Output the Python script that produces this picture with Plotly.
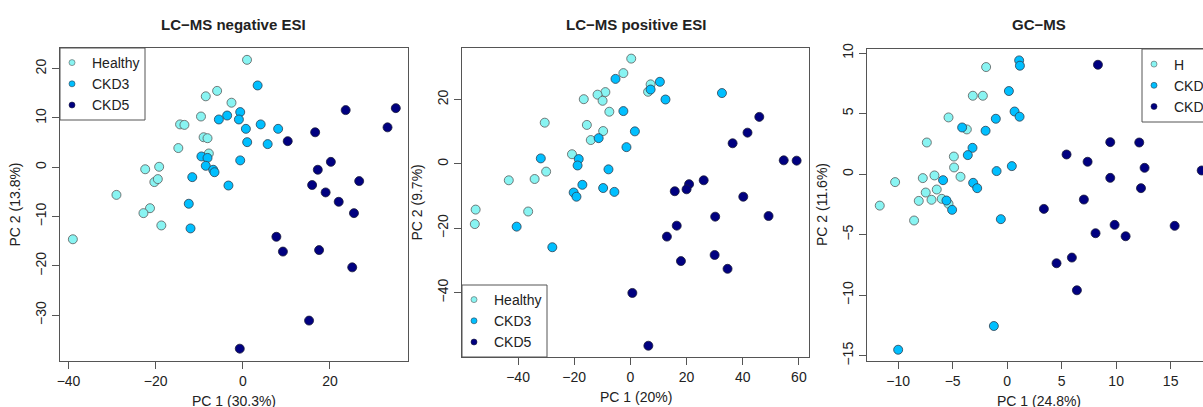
import plotly.graph_objects as go

W, H = 1203, 407

groups = ["Healthy", "CKD3", "CKD5"]
gc_legend_labels = ["H", "CKD3", "CKD5"]
fill_colors = ["#88F4F2", "#00BFFF", "#000080"]
outline_colors = ["#5a5a5a", "#2f3f4f", "#1a1a3a"]

titles = ["LC\u2212MS negative ESI", "LC\u2212MS positive ESI", "GC\u2212MS"]
x_titles = ["PC 1 (30.3%)", "PC 1 (20%)", "PC 1 (24.8%)"]
y_titles = ["PC 2 (13.8%)", "PC 2 (9.7%)", "PC 2 (11.6%)"]

x_ticks = [[-40, -20, 0, 20], [-40, -20, 0, 20, 40, 60], [-10, -5, 0, 5, 10, 15]]
y_ticks = [[-30, -20, -10, 0, 10, 20], [-40, -20, 0, 20], [-15, -10, -5, 0, 5, 10]]

# ---- LC-MS negative ESI ----
neg_healthy_x = [0.96, -5.9, -8.5, -2.6, -9.6, -14.4, -13.4, -9.0, -8.1, -7.8, -14.8, -22.4, -19.2, -20.3, -19.5, -29.0, -21.3, -22.8, -18.7, -39.0]
neg_healthy_y = [21.8, 15.5, 14.4, 13.1, 10.3, 8.7, 8.6, 6.1, 5.9, 2.8, 3.9, -0.4, 0.1, -3.0, -2.4, -5.6, -8.3, -9.3, -11.8, -14.6]
neg_ckd3_x = [3.4, -0.6, -3.6, -5.5, -0.9, 0.7, 4.1, 8.1, 1.0, 5.7, -0.6, -9.5, -8.1, -8.5, -6.8, -6.5, -11.6, -3.3, -12.4, -12.0]
neg_ckd3_y = [16.6, 11.2, 10.5, 9.7, 9.7, 7.8, 8.7, 7.8, 5.1, 4.7, 1.4, 2.2, 1.9, 0.3, -0.5, -1.0, -2.0, -3.7, -7.4, -12.4]
neg_ckd5_x = [10.3, 16.6, 23.6, 35.1, 33.2, 17.2, 20.2, 15.9, 19.0, 26.7, 22.0, 25.5, 7.7, 9.2, 17.5, 25.1, 15.2, -0.7]
neg_ckd5_y = [5.3, 7.1, 11.6, 12.0, 8.1, -0.5, 1.1, -3.6, -5.1, -2.8, -7.0, -9.3, -14.1, -17.1, -16.8, -20.3, -31.1, -36.8]

# ---- LC-MS positive ESI ----
pos_healthy_x = [0.3, -2.5, 7.2, 6.3, -8.9, -11.7, -9.9, -16.6, -7.5, -30.5, -15.5, -9.7, -14.1, -20.8, -30.0, -34.1, -43.3, -36.4, -55.1, -55.4]
pos_healthy_y = [32.7, 28.2, 24.7, 22.4, 22.3, 21.5, 19.6, 20.1, 16.2, 12.8, 12.1, 10.2, 7.4, 3.0, -2.4, -4.7, -5.1, -14.8, -14.2, -18.7]
pos_ckd3_x = [-5.3, 10.5, 7.2, 12.5, 32.6, -2.5, 1.6, -11.3, -1.4, -31.9, -18.4, -18.8, -7.8, -17.1, -9.7, -5.7, -20.2, -19.2, -40.5, -27.8]
pos_ckd3_y = [26.4, 25.5, 23.1, 20.0, 22.0, 16.4, 10.1, 8.0, 5.2, 1.7, 1.5, -0.5, -1.7, -6.5, -7.5, -8.7, -8.9, -10.2, -19.5, -25.9]
pos_ckd5_x = [45.9, 41.7, 36.4, 54.6, 59.2, 26.1, 20.9, 20.0, 15.8, 40.2, 49.2, 30.2, 16.5, 13.0, 30.0, 18.0, 34.6, 0.7, 6.4]
pos_ckd5_y = [14.6, 9.7, 6.4, 1.1, 1.0, -5.1, -6.3, -7.9, -8.5, -10.2, -16.2, -16.4, -19.2, -22.6, -28.3, -30.2, -32.6, -40.1, -56.5]

# ---- GC-MS ----
gc_healthy_x = [-1.93, -3.15, -2.23, -5.38, -3.70, -7.37, -4.89, -4.87, -10.28, -7.74, -6.67, -4.28, -6.46, -7.47, -6.94, -8.11, -6.0, -5.38, -11.69, -8.54]
gc_healthy_y = [8.84, 6.47, 6.47, 4.68, 3.69, 2.61, 1.45, 0.55, -0.66, -0.33, -0.11, -0.22, -1.27, -1.52, -2.12, -2.21, -2.04, -2.45, -2.6, -3.83]
gc_ckd3_x = [1.10, 1.17, 0.16, 0.68, 1.14, -1.04, -4.13, -1.98, -3.18, -3.61, 0.43, -0.97, -5.88, -3.12, -2.75, -5.57, -5.05, -0.58, -1.22, -10.0]
gc_ckd3_y = [9.39, 8.95, 6.86, 5.17, 4.74, 4.57, 3.85, 3.58, 2.17, 1.57, 0.66, 0.25, -0.5, -0.72, -1.16, -2.18, -2.95, -3.72, -12.54, -14.5]
gc_ckd5_x = [8.33, 9.46, 12.12, 5.45, 7.38, 12.61, 17.85, 9.46, 12.28, 7.04, 3.37, 9.86, 15.37, 8.11, 10.87, 5.94, 4.53, 6.40]
gc_ckd5_y = [9.03, 2.64, 2.61, 1.62, 1.02, 0.52, 0.3, -0.31, -1.16, -2.1, -2.87, -4.19, -4.27, -4.88, -5.13, -6.89, -7.36, -9.59]

panels_data = [
    [(neg_healthy_x, neg_healthy_y), (neg_ckd3_x, neg_ckd3_y), (neg_ckd5_x, neg_ckd5_y)],
    [(pos_healthy_x, pos_healthy_y), (pos_ckd3_x, pos_ckd3_y), (pos_ckd5_x, pos_ckd5_y)],
    [(gc_healthy_x, gc_healthy_y), (gc_ckd3_x, gc_ckd3_y), (gc_ckd5_x, gc_ckd5_y)],
]
legend_labels = [groups, groups, gc_legend_labels]

# ---- layout geometry (pixels) ----
boxes = [  # left, right, top, bottom
    (60, 408, 48, 361),
    (462, 809, 48, 357),
    (867, 1203, 49, 361),
]
x_ranges = [[-41.95, 37.9], [-59.96, 63.6], [-12.86, 17.97]]
y_ranges = [[-39.3, 24.2], [-60.0, 36.0], [-15.43, 10.33]]
# legend boxes: left, right, top, bottom (pixels)
legend_boxes = [
    (60, 145, 48, 120),
    (462, 547, 285, 357),
    (1142, 1230, 49, 122),
]

FONT = "Liberation Sans, Arial, sans-serif"
TXT = "#222222"
FRAME = "#555555"

fig = go.Figure()

for p in range(3):
    xa = "x" if p == 0 else f"x{p+1}"
    ya = "y" if p == 0 else f"y{p+1}"
    leg = "legend" if p == 0 else f"legend{p+1}"
    for g in range(3):
        xs, ys = panels_data[p][g]
        fig.add_trace(go.Scatter(
            x=xs, y=ys, mode="markers", xaxis=xa, yaxis=ya,
            showlegend=False, cliponaxis=False, hoverinfo="x+y",
            marker=dict(size=9, color=fill_colors[g],
                        line=dict(color=outline_colors[g], width=0.8)),
        ))
    # legend entries (symbols only)
    for g in range(3):
        fig.add_trace(go.Scatter(
            x=[None], y=[None], mode="markers", xaxis=xa, yaxis=ya,
            name=legend_labels[p][g], legend=leg, showlegend=True,
            marker=dict(size=6, color=fill_colors[g],
                        line=dict(color=outline_colors[g], width=0.6)),
        ))

def fx(px):
    return px / W

def fy(py):
    return 1 - py / H

layout = dict(
    width=W, height=H,
    margin=dict(l=0, r=0, t=0, b=0, autoexpand=False),
    paper_bgcolor="white", plot_bgcolor="white",
    font=dict(family=FONT, size=14, color=TXT),
    showlegend=True,
)

annotations = []
shapes = []
for p in range(3):
    l, r, t, b = boxes[p]
    xk = "xaxis" if p == 0 else f"xaxis{p+1}"
    yk = "yaxis" if p == 0 else f"yaxis{p+1}"
    anchor_x = "y" if p == 0 else f"y{p+1}"
    anchor_y = "x" if p == 0 else f"x{p+1}"
    layout[xk] = dict(
        domain=[fx(l), fx(r)], range=x_ranges[p], anchor=anchor_x,
        tickvals=x_ticks[p], ticks="outside", ticklen=7, tickcolor=FRAME,
        showline=True, linecolor=FRAME, linewidth=1, mirror=True,
        showgrid=False, zeroline=False,
        tickfont=dict(family=FONT, size=14, color=TXT),
    )
    layout[yk] = dict(
        domain=[fy(b), fy(t)], range=y_ranges[p], anchor=anchor_y,
        tickvals=y_ticks[p], ticks="outside", ticklen=7, tickcolor=FRAME,
        showline=True, linecolor=FRAME, linewidth=1,
        mirror=(p != 2),
        showgrid=False, zeroline=False, tickangle=-90,
        tickfont=dict(family=FONT, size=14, color=TXT),
    )
    cx = (l + (1211 if p == 2 else r)) / 2
    annotations.append(dict(
        text=f"<b>{titles[p]}</b>", xref="paper", yref="paper",
        x=fx(cx), y=fy(24), xanchor="center", yanchor="middle",
        showarrow=False, font=dict(family=FONT, size=15, color=TXT),
    ))
    annotations.append(dict(
        text=x_titles[p], xref="paper", yref="paper",
        x=fx(cx), y=fy(b + 40), xanchor="center", yanchor="middle",
        showarrow=False, font=dict(family=FONT, size=14, color=TXT),
    ))
    annotations.append(dict(
        text=y_titles[p], xref="paper", yref="paper",
        x=fx(l - 45), y=fy((t + b) / 2), xanchor="center", yanchor="middle",
        textangle=-90, showarrow=False,
        font=dict(family=FONT, size=14, color=TXT),
    ))
    # legend frame
    ll, lr, lt, lb = legend_boxes[p]
    shapes.append(dict(
        type="rect", xref="paper", yref="paper",
        x0=fx(ll), x1=fx(lr), y0=fy(lb), y1=fy(lt),
        line=dict(color=FRAME, width=1), fillcolor="rgba(0,0,0,0)", layer="above",
    ))
layout["annotations"] = annotations
layout["shapes"] = shapes

leg_common = dict(
    bgcolor="rgba(0,0,0,0)", borderwidth=0,
    font=dict(family=FONT, size=14, color=TXT),
    itemsizing="trace", itemwidth=30, tracegroupgap=0,
    xanchor="left", yanchor="middle",
)
for p, key in enumerate(["legend", "legend2", "legend3"]):
    ll, lr, lt, lb = legend_boxes[p]
    layout[key] = dict(x=fx(ll - 8), y=fy((lt + lb) / 2), **leg_common)

fig.update_layout(**layout)
fig.write_html("out.html")
